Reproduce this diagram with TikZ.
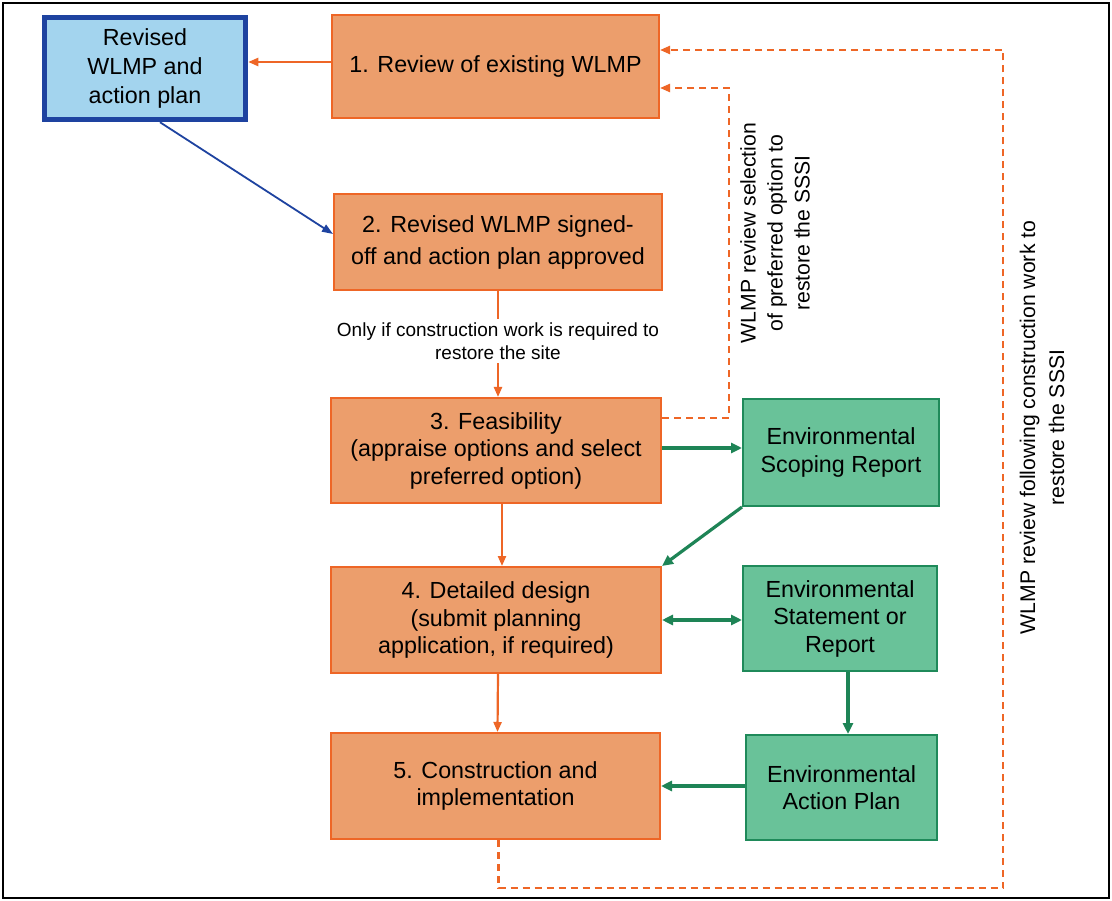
\documentclass[tikz,border=0pt]{standalone}
\usepackage{fontspec}
\setmainfont{Liberation Sans}
\usetikzlibrary{arrows.meta}
\definecolor{ofill}{HTML}{EC9E6C}
\definecolor{oline}{HTML}{EE6626}
\definecolor{gfill}{HTML}{69C299}
\definecolor{gline}{HTML}{1F8A5A}
\definecolor{bfill}{HTML}{A3D4EE}
\definecolor{bline}{HTML}{1E43A0}
\definecolor{garrow}{HTML}{1E8456}
\begin{document}
\begin{tikzpicture}[x=1pt,y=-1pt,
  every node/.style={font=\fontsize{23.3}{27.5}\selectfont, align=center, inner sep=0pt},
  obox/.style={draw=oline, fill=ofill, line width=2pt, rectangle},
  gbox/.style={draw=gline, fill=gfill, line width=2pt, rectangle},
  bbox/.style={draw=bline, fill=bfill, line width=5.5pt, rectangle},
  olink/.style={draw=oline, line width=2.2pt},
  oarr/.style={olink, -{Triangle[length=10pt,width=8pt]}},
  garr/.style={draw=garrow, line width=3.2pt, -{Triangle[length=11pt,width=10pt]}},
  gdarr/.style={draw=garrow, line width=3.2pt, {Triangle[length=11pt,width=10pt]}-{Triangle[length=11pt,width=10pt]}},
  barr/.style={draw=bline, line width=1.8pt, -{Triangle[length=11pt,width=8pt]}},
  darr/.style={draw=oline, line width=2.2pt, dash pattern=on 7pt off 5pt, -{Triangle[length=10pt,width=8pt]}},
  rlab/.style={rotate=90, font=\fontsize{21.2}{27}\selectfont}
]
\useasboundingbox (0,0) rectangle (1112,901);
\fill[white] (0,0) rectangle (1112,901);
\draw[line width=2.5pt] (3,3) rectangle (1109,898);

% boxes
\node[bbox, minimum width=201pt, minimum height=102pt, font=\fontsize{23.3}{29}\selectfont] (blue) at (145,68.5) {Revised\\WLMP and\\action plan};
\node[obox, minimum width=327pt, minimum height=103pt] (b1) at (495.5,66.5) {1. Review of existing WLMP};
\node[obox, minimum width=328pt, minimum height=96pt, font=\fontsize{23.3}{32}\selectfont] (b2) at (498,242) {2. Revised WLMP signed-\\off and action plan approved};
\node[obox, minimum width=330pt, minimum height=105pt] (b3) at (496,450.5) {3. Feasibility\\(appraise options and select\\preferred option)};
\node[gbox, minimum width=196pt, minimum height=107pt] (sc) at (841,452.5) {Environmental\\Scoping Report};
\node[obox, minimum width=330pt, minimum height=106pt] (b4) at (496,620) {4. Detailed design\\(submit planning\\application, if required)};
\node[gbox, minimum width=194pt, minimum height=105pt] (es) at (840,618.5) {Environmental\\Statement or\\Report};
\node[obox, minimum width=329pt, minimum height=106pt] (b5) at (495.5,786) {5. Construction and\\implementation};
\node[gbox, minimum width=191pt, minimum height=105pt] (eap) at (841.5,787.5) {Environmental\\Action Plan};

% label between 2 and 3
\node[font=\fontsize{19}{22.5}\selectfont, inner sep=4pt] (lbl) at (498,341) {Only if construction work is required to\\restore the site};

% rotated labels
\node[rlab] (r1) at (775,233) {WLMP review selection\\of preferred option to\\restore the SSSI};
\node[rlab, font=\fontsize{21.2}{29}\selectfont] (r2) at (1042,427.5) {WLMP review following construction work to\\restore the SSSI};

% dashed feedback coordinates
\coordinate (d1) at (729,88);
\coordinate (d2) at (1003,888);

% connectors
\draw[oarr] (b1.west |- 0,62) -- (blue.east |- 0,62);
\draw[barr] ([xshift=15pt]blue.south) -- ([yshift=8pt]b2.west);
\draw[olink] (b2.south) -- (lbl.north);
\draw[oarr] (lbl.south) -- (lbl.south |- b3.north);
\draw[oarr] ([xshift=6pt]b3.south) -- ([xshift=6pt]b4.north);
\draw[oarr] ([xshift=2pt]b4.south) -- ([xshift=2pt]b5.north);
\draw[garr] (b3.east |- 0,448) -- (sc.west |- 0,448);
\draw[garr] (sc.south west) -- (b4.north east);
\draw[gdarr] (b4.east) -- (es.west |- b4.east);
\draw[garr] ([xshift=8pt]es.south) -- ([xshift=8pt]es.south |- eap.north);
\draw[garr] (eap.west |- 0,786) -- (b5.east |- 0,786);

% dashed loops
\draw[darr] (b3.east |- 0,418) -| (d1) -- (b1.east |- d1);
\draw[darr] ([xshift=3pt]b5.south) |- (d2) |- (b1.east |- 0,50);
\end{tikzpicture}
\end{document}
